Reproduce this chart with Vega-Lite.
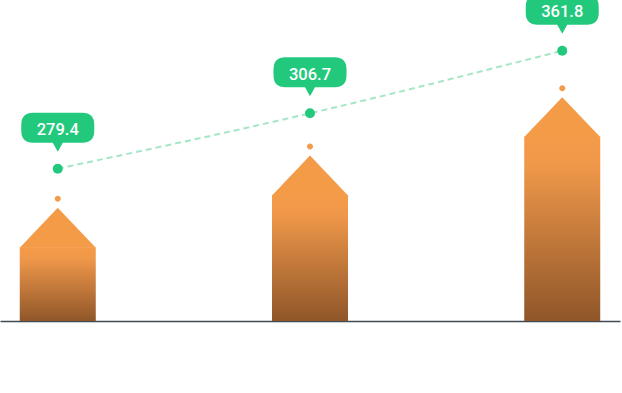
{
  "$schema": "https://vega.github.io/schema/vega-lite/v6.json",
  "width": 620,
  "height": 321,
  "padding": {"left": 0, "top": 0, "right": 2, "bottom": 72},
  "autosize": {"type": "none"},
  "background": "white",
  "config": {"view": {"stroke": null}},
  "data": {
    "values": [
      {"cat": "A", "bar": 73.7, "line": 152.3, "label": "279.4"},
      {"cat": "B", "bar": 126, "line": 207.7, "label": "306.7"},
      {"cat": "C", "bar": 184.3, "line": 270.3, "label": "361.8"}
    ]
  },
  "encoding": {
    "x": {
      "field": "cat",
      "type": "nominal",
      "sort": null,
      "scale": {"type": "point", "padding": 0.229},
      "axis": {"title": null, "labels": false, "ticks": false, "domain": true, "domainColor": "#404a54", "domainWidth": 1.5, "grid": false}
    }
  },
  "layer": [
    {
      "mark": {
        "type": "bar",
        "width": 76,
        "color": {
          "gradient": "linear",
          "x1": 0, "y1": 0, "x2": 0, "y2": 1,
          "stops": [
            {"offset": 0, "color": "#f49b48"},
            {"offset": 0.15, "color": "#f0984a"},
            {"offset": 1, "color": "#8f5629"}
          ]
        }
      },
      "encoding": {
        "y": {"field": "bar", "type": "quantitative", "scale": {"domain": [0, 321], "nice": false, "zero": true}, "axis": null}
      }
    },
    {
      "mark": {
        "type": "point",
        "filled": true,
        "opacity": 1,
        "color": "#f49b48",
        "strokeWidth": 0,
        "size": 5776,
        "shape": "M-1,0.01 L0,-1.039 L1,0.01 Z M0,-1.355 C0.0436,-1.355 0.079,-1.3196 0.079,-1.276 C0.079,-1.2324 0.0436,-1.197 0,-1.197 C-0.0436,-1.197 -0.079,-1.2324 -0.079,-1.276 C-0.079,-1.3196 -0.0436,-1.355 0,-1.355 Z"
      },
      "encoding": {
        "y": {"field": "bar", "type": "quantitative", "scale": {"domain": [0, 321], "nice": false, "zero": true}, "axis": null}
      }
    },
    {
      "mark": {"type": "line", "interpolate": "monotone", "strokeDash": [6, 4], "strokeWidth": 2, "color": "#a6e6c6"},
      "encoding": {
        "y": {"field": "line", "type": "quantitative", "scale": {"domain": [0, 321], "nice": false, "zero": true}, "axis": null}
      }
    },
    {
      "mark": {"type": "point", "filled": true, "opacity": 1, "color": "#22c97d", "size": 100, "strokeWidth": 0},
      "encoding": {
        "y": {"field": "line", "type": "quantitative", "scale": {"domain": [0, 321], "nice": false, "zero": true}, "axis": null}
      }
    },
    {
      "mark": {
        "type": "point",
        "filled": true,
        "opacity": 1,
        "color": "#22c97d",
        "strokeWidth": 0,
        "size": 400,
        "shape": "M-2.45,-5.6 L2.45,-5.6 Q3.65,-5.6 3.65,-4.4 L3.65,-3.8 Q3.65,-2.6 2.45,-2.6 L0.5,-2.6 L0,-1.7 L-0.5,-2.6 L-2.45,-2.6 Q-3.65,-2.6 -3.65,-3.8 L-3.65,-4.4 Q-3.65,-5.6 -2.45,-5.6 Z"
      },
      "encoding": {
        "y": {"field": "line", "type": "quantitative", "scale": {"domain": [0, 321], "nice": false, "zero": true}, "axis": null}
      }
    },
    {
      "mark": {"type": "text", "color": "white", "fontSize": 16.5, "dy": -33.4, "baseline": "alphabetic", "align": "center", "font": "Roboto", "fontWeight": 500},
      "encoding": {
        "y": {"field": "line", "type": "quantitative", "scale": {"domain": [0, 321], "nice": false, "zero": true}, "axis": null},
        "text": {"field": "label", "type": "nominal"}
      }
    }
  ]
}
